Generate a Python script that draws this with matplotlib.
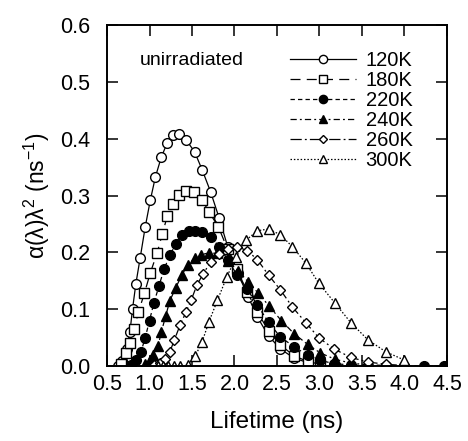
import matplotlib
matplotlib.use("Agg")
import matplotlib.pyplot as plt

plt.rcParams['font.family'] = ['Liberation Sans', 'DejaVu Sans']
plt.rcParams['mathtext.fontset'] = 'custom'
plt.rcParams['mathtext.rm'] = 'Liberation Sans'
plt.rcParams['mathtext.it'] = 'Liberation Sans'

labels = ["120K", "180K", "220K", "240K", "260K", "300K"]

x120 = [0.63, 0.68, 0.73, 0.77, 0.80, 0.84, 0.89, 0.95, 1.01, 1.07, 1.14, 1.21, 1.28, 1.35, 1.43,
        1.53, 1.62, 1.72, 1.82, 1.92, 2.04, 2.16, 2.27, 2.40, 2.54, 2.70, 2.86]
y120 = [0.0, 0.008, 0.03, 0.06, 0.10, 0.145, 0.19, 0.245, 0.292, 0.333, 0.368, 0.393, 0.407, 0.408, 0.398,
        0.377, 0.345, 0.306, 0.26, 0.21, 0.163, 0.122, 0.086, 0.053, 0.03, 0.014, 0.006]

x180 = [0.66, 0.72, 0.77, 0.82, 0.87, 0.94, 1.01, 1.09, 1.15, 1.21, 1.28, 1.35, 1.43, 1.52, 1.62,
        1.70, 1.81, 1.92, 2.03, 2.15, 2.27, 2.40, 2.54, 2.70, 2.86, 3.01]
y180 = [0.003, 0.022, 0.04, 0.065, 0.095, 0.128, 0.164, 0.199, 0.232, 0.264, 0.285, 0.301, 0.308, 0.306, 0.292,
        0.271, 0.245, 0.205, 0.17, 0.13, 0.095, 0.062, 0.037, 0.018, 0.008, 0.003]

x220 = [0.78, 0.84, 0.90, 0.95, 1.00, 1.05, 1.11, 1.17, 1.24, 1.31, 1.38, 1.46, 1.54, 1.62, 1.72,
        1.82, 1.92, 2.03, 2.15, 2.27, 2.40, 2.54, 2.70, 2.86, 3.01, 3.17, 3.37, 3.57, 3.78, 3.99, 4.23, 4.47]
y220 = [0.002, 0.01, 0.025, 0.05, 0.08, 0.11, 0.14, 0.17, 0.195, 0.215, 0.23, 0.237, 0.238, 0.235, 0.227,
        0.21, 0.187, 0.16, 0.135, 0.107, 0.077, 0.051, 0.034, 0.019, 0.01, 0.004, 0.002, 0.0, 0.0, 0.0, 0.0, 0.0]

x240 = [0.95, 1.00, 1.04, 1.10, 1.14, 1.19, 1.24, 1.31, 1.38, 1.45, 1.53, 1.61, 1.70, 1.80, 1.92,
        2.04, 2.16, 2.28, 2.41, 2.55, 2.70, 2.86, 3.01, 3.18, 3.37, 3.57, 3.78, 3.99, 4.23, 4.47]
y240 = [0.003, 0.01, 0.02, 0.035, 0.06, 0.088, 0.115, 0.138, 0.16, 0.178, 0.19, 0.196, 0.199, 0.198, 0.185,
        0.168, 0.148, 0.128, 0.105, 0.08, 0.057, 0.038, 0.023, 0.012, 0.005, 0.002, 0.001, 0.0, 0.0, 0.0]

x260 = [1.05, 1.12, 1.18, 1.24, 1.29, 1.36, 1.43, 1.49, 1.56, 1.63, 1.72, 1.82, 1.92, 2.03, 2.15,
        2.27, 2.40, 2.54, 2.68, 2.84, 2.99, 3.17, 3.37, 3.57, 3.78, 3.99]
y260 = [0.002, 0.006, 0.012, 0.025, 0.045, 0.072, 0.095, 0.116, 0.143, 0.162, 0.183, 0.197, 0.206, 0.21, 0.203,
        0.187, 0.16, 0.134, 0.104, 0.076, 0.05, 0.03, 0.015, 0.007, 0.003, 0.001]

x300 = [1.10, 1.16, 1.22, 1.29, 1.36, 1.45, 1.54, 1.62, 1.70, 1.80, 1.91, 2.02, 2.14, 2.27, 2.40,
        2.54, 2.68, 2.84, 2.99, 3.18, 3.37, 3.57, 3.78, 3.99]
y300 = [0.0, 0.0, 0.0, 0.0, 0.0, 0.001, 0.018, 0.043, 0.078, 0.116, 0.157, 0.192, 0.222, 0.238, 0.241,
        0.231, 0.21, 0.181, 0.146, 0.111, 0.076, 0.046, 0.025, 0.011]

xticks = [0.5, 1.0, 1.5, 2.0, 2.5, 3.0, 3.5, 4.0, 4.5]
yticks = [0.0, 0.1, 0.2, 0.3, 0.4, 0.5, 0.6]

fig = plt.figure(figsize=(4.68, 4.41), dpi=100)
ax = fig.add_axes([107/468, 1 - 366/441, 340/468, 341/441])

series = [
    (x120, y120, 'o', 'white', '-'),
    (x180, y180, 's', 'white', (0, (8, 5))),
    (x220, y220, 'o', 'black', (0, (3.5, 2.5))),
    (x240, y240, '^', 'black', (0, (5, 2.5, 1.5, 2.5))),
    (x260, y260, 'D', 'white', (0, (9, 2.5, 1.5, 2.5))),
    (x300, y300, '^', 'white', (0, (1.2, 1.5))),
]
sizes = [7.0, 6.6, 7.0, 7.0, 4.6, 7.0]
handles = []
for (xs, ys, m, fc, ls), lab, ms in zip(series, labels, sizes):
    h, = ax.plot(xs, ys, linestyle=ls, color='black', linewidth=0.9,
                 marker=m, markersize=ms, markerfacecolor=fc,
                 markeredgecolor='black', markeredgewidth=1.0, label=lab)
    handles.append(h)

ax.set_xlim(0.5, 4.5)
ax.set_ylim(0.0, 0.6)
ax.set_xticks(xticks)
ax.set_yticks(yticks)
ax.set_xticklabels([f"{v:.1f}" for v in xticks])
ax.set_yticklabels([f"{v:.1f}" for v in yticks])
ax.tick_params(direction='in', length=8, width=1.1, top=True, right=True,
               labelsize=15.5)
ax.tick_params(axis='x', pad=6)
ax.tick_params(axis='y', pad=12)
for s in ax.spines.values():
    s.set_linewidth(1.4)

ax.set_xlabel("Lifetime (ns)", fontsize=17.5, labelpad=11)
ax.set_ylabel(r"α(λ)λ$^{2}$ (ns$^{-1}$)", fontsize=16.5, labelpad=6)

ax.text(0.095, 0.895, "unirradiated", transform=ax.transAxes, fontsize=14,
        ha='left', va='center')

leg = ax.legend(handles=handles, loc='upper left', frameon=False,
                bbox_to_anchor=(290/468, 1 - 51/441), bbox_transform=fig.transFigure,
                fontsize=14.5, handlelength=3.3, handletextpad=0.45,
                labelspacing=0.05, borderpad=0, borderaxespad=0, markerscale=0.85)

fig.savefig("out.png", dpi=100)
